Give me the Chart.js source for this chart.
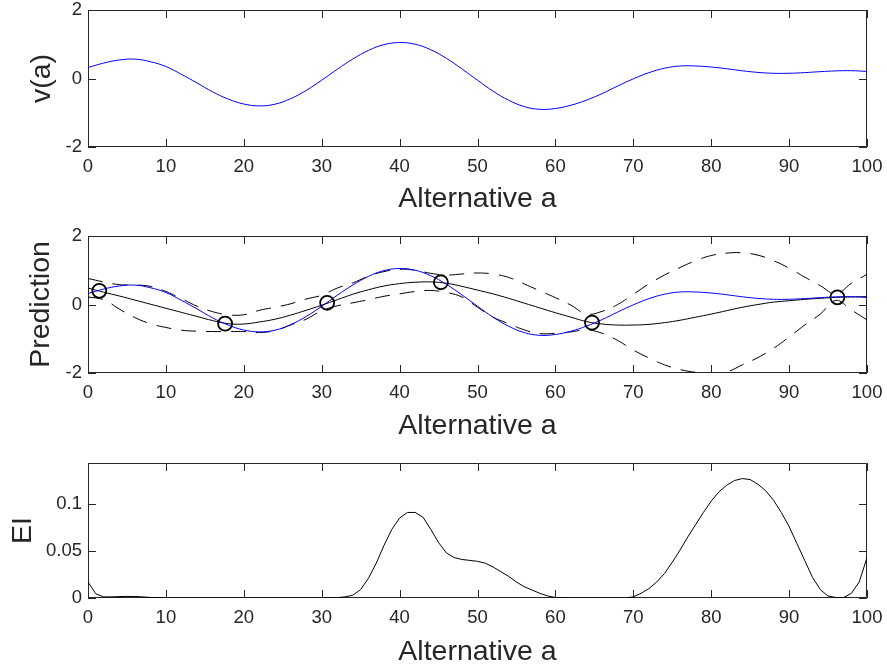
<!DOCTYPE html>
<html>
<head>
<meta charset="utf-8">
<script src="https://cdn.jsdelivr.net/npm/chart.js@4.4.1/dist/chart.umd.min.js"></script>
<style>
  html, body { margin: 0; padding: 0; background: #fff; overflow: hidden; }
  #wrap { position: relative; width: 887px; height: 665px; }
  canvas { position: absolute; left: 0; }
</style>
</head>
<body>
<div id="wrap">
  <canvas id="chartV" width="887" height="225" style="top:0px"></canvas>
  <canvas id="chartPred" width="887" height="227" style="top:225px"></canvas>
  <canvas id="chartEI" width="887" height="213" style="top:452px"></canvas>
</div>
<script>
// alternatives (x grid for the smooth curves)
let aGrid = [0, 2, 4, 6, 8, 10, 12, 14, 16, 18, 20, 22, 24, 26, 28, 30, 32, 34, 36, 38, 40,
  42, 44, 46, 48, 50, 52, 54, 56, 58, 60, 62, 64, 66, 68, 70, 72, 74, 76, 78, 80,
  82, 84, 86, 88, 90, 92, 94, 96, 98, 100];

// true function v(a)
let vTrue = [0.32, 0.45, 0.54, 0.566, 0.49, 0.35, 0.12, -0.13, -0.39, -0.60, -0.745,
  -0.80, -0.75, -0.59, -0.35, -0.05, 0.27, 0.57, 0.82, 0.99, 1.05,
  1.00, 0.84, 0.59, 0.28, -0.05, -0.37, -0.635, -0.82, -0.90, -0.875,
  -0.78, -0.63, -0.44, -0.22, -0.01, 0.17, 0.30, 0.365, 0.365, 0.335,
  0.285, 0.225, 0.178, 0.152, 0.153, 0.172, 0.20, 0.222, 0.228, 0.205];

// GP prediction: mean and bounds
let predMean = [0.48, 0.36, 0.25, 0.13, 0.01, -0.11, -0.23, -0.35, -0.47, -0.56, -0.57,
  -0.51, -0.43, -0.31, -0.17, -0.02, 0.14, 0.30, 0.43, 0.54, 0.61,
  0.65, 0.66, 0.62, 0.53, 0.42, 0.31, 0.18, 0.04, -0.10, -0.24,
  -0.37, -0.50, -0.57, -0.60, -0.60, -0.58, -0.53, -0.46, -0.37, -0.28,
  -0.18, -0.08, 0.00, 0.07, 0.11, 0.15, 0.18, 0.21, 0.22, 0.23];

let predUpper = [0.76, 0.66, 0.58, 0.57, 0.53, 0.38, 0.17, -0.05, -0.21, -0.30, -0.30,
  -0.17, -0.08, 0.02, 0.16, 0.27, 0.48, 0.63, 0.83, 0.96, 1.03,
  1.00, 0.91, 0.86, 0.89, 0.92, 0.89, 0.79, 0.60, 0.40, 0.20,
  -0.02, -0.28, -0.20, 0.00, 0.30, 0.60, 0.86, 1.08, 1.28, 1.43,
  1.50, 1.51, 1.44, 1.28, 1.06, 0.80, 0.55, 0.31, 0.62, 0.88];

let predLower = [0.22, 0.14, -0.13, -0.38, -0.56, -0.67, -0.75, -0.78, -0.79, -0.79, -0.79,
  -0.82, -0.76, -0.60, -0.43, -0.18, -0.04, 0.05, 0.14, 0.24, 0.31,
  0.38, 0.41, 0.35, 0.22, -0.08, -0.37, -0.56, -0.74, -0.85, -0.84,
  -0.80, -0.74, -0.84, -1.05, -1.33, -1.56, -1.76, -1.90, -1.98, -2.02,
  -1.97, -1.76, -1.55, -1.28, -0.95, -0.60, -0.28, 0.12, -0.16, -0.45];

// observed points
let obsX = [1.45, 17.6, 30.7, 45.3, 64.7, 96.2];
let obsY = [0.40, -0.56, 0.05, 0.65, -0.53, 0.21];

// expected improvement, one value per alternative 0..100
let eiX = [0, 1, 2, 3, 4, 5, 6, 7, 8, 9, 10, 11, 12, 13, 14, 15, 16, 17, 18, 19, 20,
  21, 22, 23, 24, 25, 26, 27, 28, 29, 30, 31, 32, 33, 34, 35, 36, 37, 38, 39, 40,
  41, 42, 43, 44, 45, 46, 47, 48, 49, 50, 51, 52, 53, 54, 55, 56, 57, 58, 59, 60,
  61, 62, 63, 64, 65, 66, 67, 68, 69, 70, 71, 72, 73, 74, 75, 76, 77, 78, 79, 80,
  81, 82, 83, 84, 85, 86, 87, 88, 89, 90, 91, 92, 93, 94, 95, 96, 97, 98, 99, 100];
let eiVal = [0.017, 0.0045, 0.0012, 0.0012, 0.0015, 0.0017, 0.0016, 0.0012, 0.0006, 0.0002,
  0, 0, 0, 0, 0, 0, 0, 0, 0, 0, 0, 0, 0, 0, 0, 0, 0, 0, 0, 0, 0, 0,
  0.0003, 0.0012, 0.003, 0.009, 0.021, 0.037, 0.056, 0.073, 0.085,
  0.091, 0.091, 0.086, 0.073, 0.059, 0.048, 0.043, 0.041, 0.040, 0.039,
  0.037, 0.033, 0.028, 0.023, 0.017, 0.012, 0.0085, 0.005, 0.0022, 0.0005,
  0.0001, 0, 0, 0, 0, 0, 0, 0, 0,
  0.0012, 0.005, 0.010, 0.017, 0.026, 0.038, 0.051, 0.065, 0.078, 0.091,
  0.103, 0.113, 0.120, 0.125, 0.127, 0.126, 0.121, 0.114, 0.104, 0.091,
  0.076, 0.058, 0.040, 0.022, 0.009, 0.002, 0.0005, 0.0005, 0.005, 0.017, 0.043];

// tick labels
let xTicks = [0, 10, 20, 30, 40, 50, 60, 70, 80, 90, 100];
let vTicks = [-2, 0, 2];
let eiTicks = [0, 0.05, 0.1];

const FONT = "'Liberation Sans', Arial, Helvetica, sans-serif";
const AXIS = '#262626';

function pts(xs, ys) {
  return xs.map((x, i) => ({ x: x, y: ys[i] }));
}

// matlab style box with inward ticks on all four sides
const boxPlugin = {
  id: 'matlabBox',
  beforeDatasetsDraw(chart) {
    let ctx = chart.ctx;
    let a = chart.chartArea;
    let x = chart.scales.x, y = chart.scales.y;
    let tl = 8;
    ctx.save();
    ctx.strokeStyle = AXIS;
    ctx.lineWidth = 1;
    ctx.beginPath();
    x.ticks.forEach(t => {
      let px = Math.round(x.getPixelForValue(t.value)) + 0.5;
      ctx.moveTo(px, a.bottom); ctx.lineTo(px, a.bottom - tl);
      ctx.moveTo(px, a.top); ctx.lineTo(px, a.top + tl);
    });
    y.ticks.forEach(t => {
      let py = Math.round(y.getPixelForValue(t.value)) + 0.5;
      ctx.moveTo(a.left, py); ctx.lineTo(a.left + tl, py);
      ctx.moveTo(a.right, py); ctx.lineTo(a.right - tl, py);
    });
    ctx.rect(a.left + 0.5, a.top + 0.5, a.right - a.left - 1, a.bottom - a.top - 1);
    ctx.stroke();
    ctx.restore();
  }
};

function makeOptions(cfg) {
  return {
    responsive: false,
    animation: false,
    devicePixelRatio: 1,
    layout: { padding: { top: cfg.padTop, right: 20, left: 0, bottom: 0 } },
    plugins: { legend: { display: false }, tooltip: { enabled: false } },
    scales: {
      x: {
        type: 'linear', min: 0, max: 100,
        afterBuildTicks: s => { s.ticks = xTicks.map(v => ({ value: v })); },
        afterFit: s => { s.height = cfg.xHeight; s.paddingLeft = 0; s.paddingRight = 0; },
        grid: { display: false, drawTicks: false },
        border: { display: false },
        ticks: {
          padding: 9, color: AXIS, maxRotation: 0, autoSkip: false,
          font: { family: FONT, size: 18.5 },
          callback: v => String(v)
        },
        title: {
          display: true, text: 'Alternative a', color: AXIS,
          font: { family: FONT, size: 28.5, lineHeight: 0.9 },
          padding: { top: 0, bottom: cfg.xTitlePad }
        }
      },
      y: {
        type: 'linear', min: cfg.yMin, max: cfg.yMax,
        afterBuildTicks: s => { s.ticks = cfg.yTicks.map(v => ({ value: v })); },
        afterFit: s => { s.width = 88; s.paddingTop = 0; s.paddingBottom = 0; },
        grid: { display: false, drawTicks: false },
        border: { display: false },
        ticks: {
          padding: 6, color: AXIS,
          font: { family: FONT, size: 18.5 },
          callback: v => String(v)
        },
        title: {
          display: true, text: cfg.yTitle, color: AXIS,
          font: { family: FONT, size: 28.5, lineHeight: 1 },
          padding: { top: cfg.yTitlePad, bottom: 0 }
        }
      }
    }
  };
}

function lineSet(data, color, dash) {
  return {
    data: data, borderColor: color, borderWidth: 1, borderDash: dash || [],
    pointRadius: 0, fill: false, tension: 0.4
  };
}

new Chart(document.getElementById('chartV'), {
  type: 'line',
  data: { datasets: [lineSet(pts(aGrid, vTrue), '#0000ff')] },
  options: makeOptions({ padTop: 10, xHeight: 78, xTitlePad: 13, yMin: -2, yMax: 2,
    yTicks: vTicks, yTitle: 'v(a)', yTitlePad: 28 }),
  plugins: [boxPlugin]
});

new Chart(document.getElementById('chartPred'), {
  type: 'line',
  data: {
    datasets: [
      {
        data: pts(obsX, obsY), showLine: false, pointStyle: 'circle',
        pointRadius: 7, pointBorderWidth: 1.8, pointBorderColor: '#000',
        pointBackgroundColor: 'rgba(0,0,0,0)'
      },
      lineSet(pts(aGrid, vTrue), '#0000ff'),
      lineSet(pts(aGrid, predMean), '#000'),
      lineSet(pts(aGrid, predUpper), '#000', [15, 10]),
      lineSet(pts(aGrid, predLower), '#000', [15, 10])
    ]
  },
  options: makeOptions({ padTop: 11, xHeight: 79, xTitlePad: 13, yMin: -2, yMax: 2,
    yTicks: vTicks, yTitle: 'Prediction', yTitlePad: 27 }),
  plugins: [boxPlugin]
});

new Chart(document.getElementById('chartEI'), {
  type: 'line',
  data: {
    datasets: [{
      data: pts(eiX, eiVal), borderColor: '#000', borderWidth: 1,
      pointRadius: 0, fill: false, tension: 0
    }]
  },
  options: makeOptions({ padTop: 11, xHeight: 67, xTitlePad: 0, yMin: 0, yMax: 0.1436,
    yTicks: eiTicks, yTitle: 'EI', yTitlePad: 9 }),
  plugins: [boxPlugin]
});
</script>
</body>
</html>
